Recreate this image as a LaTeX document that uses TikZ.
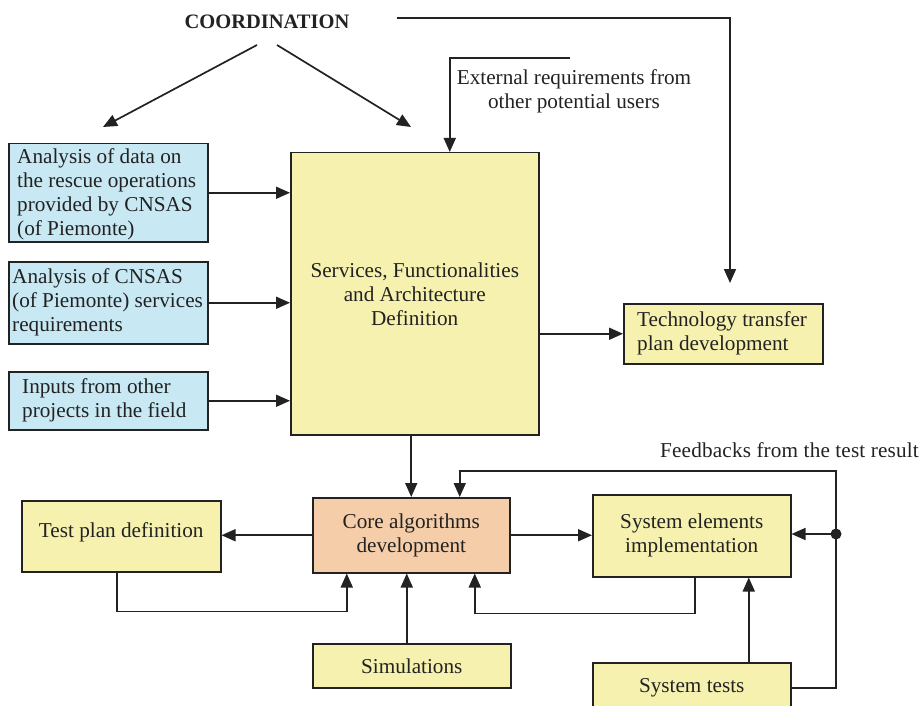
\documentclass[tikz,border=0pt]{standalone}
\usepackage{fontspec}
\setmainfont{Liberation Serif}
\usetikzlibrary{arrows.meta}
\definecolor{bluef}{HTML}{C8E8F3}
\definecolor{yelf}{HTML}{F6F1AF}
\definecolor{orf}{HTML}{F5CDA8}
\definecolor{ink}{HTML}{222222}
\begin{document}
\begin{tikzpicture}[x=1pt,y=-1pt,
  box/.style={draw=ink, line width=1.5pt, inner sep=0pt, anchor=north west, text=ink,
    font=\fontsize{21.2}{24}\selectfont, align=center},
  conn/.style={draw=ink, line width=1.7pt},
  arr/.style={conn, -{Triangle[length=14pt,width=12pt]}},
  lbl/.style={text=ink, font=\fontsize{21.2}{24}\selectfont, inner sep=0pt}]
\useasboundingbox (0,0) rectangle (921,706);
\clip (0,0) rectangle (921,706);

% coordination
\node[lbl, font=\bfseries\fontsize{20.5}{24}\selectfont] (coord) at (267,22) {COORDINATION};
\coordinate (cls) at (257,45);
\coordinate (cle) at (103,127);
\coordinate (crs) at (277,45);
\coordinate (cre) at (411,127);
\draw[arr] (cls) -- (cle);
\draw[arr] (crs) -- (cre);

% blue boxes
\node[box, fill=bluef, minimum width=199, minimum height=98] (b1) at (8,143) {};
\node[lbl, anchor=west, align=left] (t1) at ([xshift=9pt,yshift=-2pt]b1.west)
  {Analysis of data on\\the rescue operations\\provided by CNSAS\\(of Piemonte)};
\node[box, fill=bluef, minimum width=199, minimum height=82] (b2) at (8,261) {};
\node[lbl, anchor=west, align=left] (t2) at ([xshift=4pt]b2.west)
  {Analysis of CNSAS\\(of Piemonte) services\\requirements};
\node[box, fill=bluef, minimum width=199, minimum height=58] (b3) at (8,371) {};
\node[lbl, anchor=west, align=left] (t3) at ([xshift=14pt]b3.west)
  {Inputs from other\\projects in the field};

% big box
\node[box, fill=yelf, minimum width=248, minimum height=282] (big) at (290,152)
  {Services, Functionalities\\and Architecture\\Definition};
\draw[arr] (b1.east) -- (b1.east -| big.west);
\draw[arr] (b2.east) -- (b2.east -| big.west);
\draw[arr] (b3.east) -- (b3.east -| big.west);

% external requirements
\coordinate (ext) at (570,58);
\draw[arr] (ext) -| ([xshift=35pt]big.north);
\node[lbl, align=center] (extl) at (574,91) {External requirements from\\other potential users};

% technology transfer
\node[box, fill=yelf, minimum width=199, minimum height=60] (tech) at (623,303) {};
\node[lbl, anchor=west, align=left] (tt) at ([xshift=14pt]tech.west)
  {Technology transfer\\plan development};
\draw[arr] (big.east |- tech.west) -- (tech.west);
\coordinate (cs) at (397,18);
\coordinate (ct) at (730,283);
\draw[arr] (cs) -| (ct);

% core
\node[box, fill=orf, minimum width=197, minimum height=75] (core) at (312,497)
  {Core algorithms\\development};
\draw[arr] (big.south -| core.north) -- (core.north);

% test plan
\node[box, fill=yelf, minimum width=199, minimum height=71] (tp) at (21,500) {};
\node[lbl] (tpl) at ([yshift=4pt]tp.center) {Test plan definition};
\draw[arr] (core.west) -- (core.west -| tp.east);
\draw[arr] ([xshift=-4.5pt]tp.south) -- ++(0,39) -| ([xshift=-64.5pt]core.south);

% simulations
\node[box, fill=yelf, minimum width=198, minimum height=44] (sim) at (312,643) {Simulations};
\draw[arr] ([xshift=-5pt]sim.north) -- ([xshift=-5pt]sim.north |- core.south);

% system elements
\node[box, fill=yelf, minimum width=198, minimum height=82] (sys) at (592,494)
  {System elements\\implementation};
\draw[arr] (core.east) -- (core.east -| sys.west);
\draw[arr] ([xshift=3pt]sys.south) -- ++(0,36) -| ([xshift=63.5pt]core.south);

% system tests
\node[box, fill=yelf, minimum width=198, minimum height=50] (st) at (592,662) {System tests};
\draw[arr] ([xshift=57pt]st.north) -- ([xshift=57pt]st.north |- sys.south);

% feedback loop
\node[circle, fill=ink, inner sep=0pt, minimum size=11pt] (dot) at (836,534) {};
\coordinate (fb) at (836,471);
\draw[conn] (st.east) -| (dot.center);
\draw[arr] (dot.center) -- (fb) -| ([xshift=48.5pt]core.north);
\draw[arr] (dot.center) -- (dot.center -| sys.east);
\node[lbl, anchor=west, font=\fontsize{21.2}{24}\selectfont\addfontfeature{LetterSpace=0.8}] (fbl) at (660,450)
  {Feedbacks from the test result};
\end{tikzpicture}
\end{document}
